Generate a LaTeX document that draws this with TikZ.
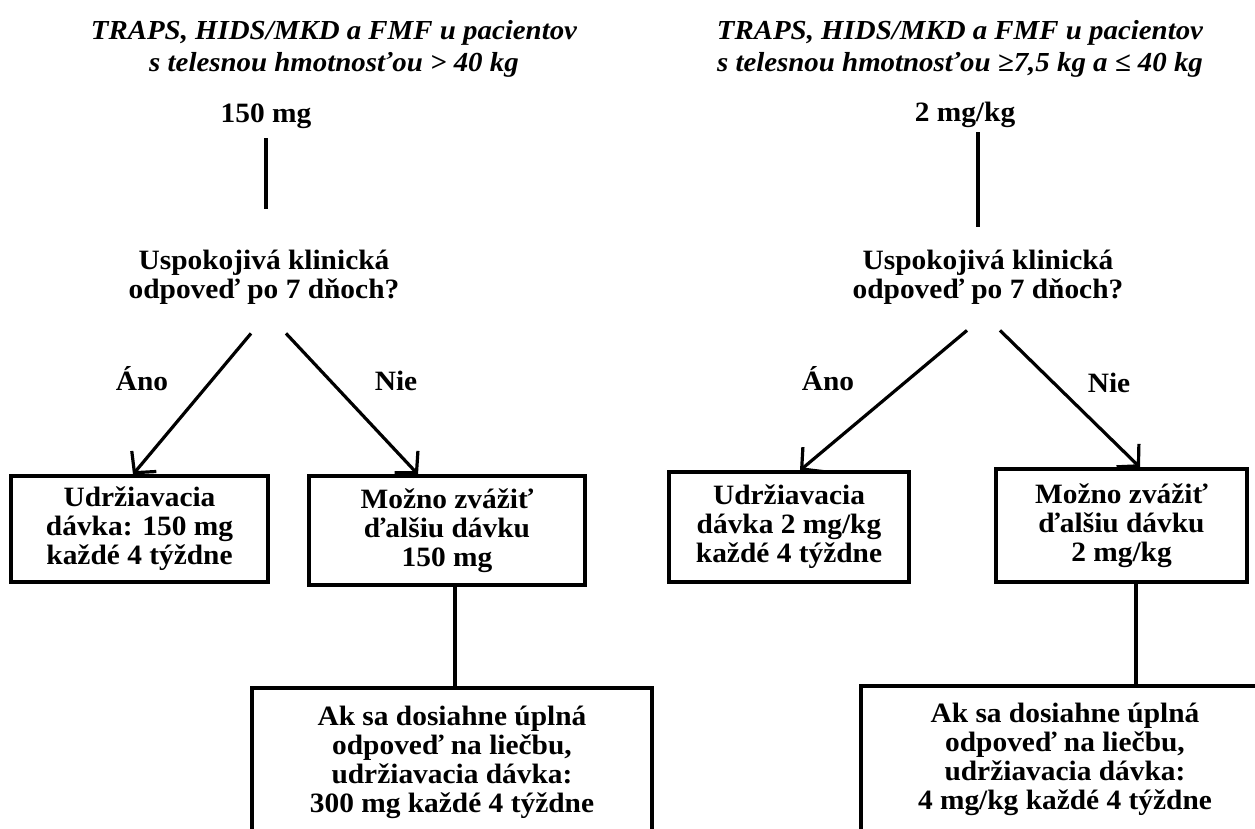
\documentclass[tikz,border=0pt]{standalone}
\usepackage{fontspec}
\setmainfont{Liberation Serif}[FakeStretch=1.05]
\usetikzlibrary{arrows.meta}
\begin{document}
\begin{tikzpicture}[x=1pt,y=-1pt,
  txt/.style={inner sep=0pt, font=\bfseries\fontsize{28pt}{29pt}\selectfont, align=center},
  head/.style={inner sep=0pt, font=\bfseries\itshape\fontsize{27.5pt}{32pt}\selectfont, align=center},
  box/.style={draw, line width=3.2pt, inner sep=0pt, font=\bfseries\fontsize{28pt}{29pt}\selectfont, align=center},
  ln/.style={line width=3.2pt},
  arr/.style={line width=3.2pt, -{Straight Barb[length=15pt,width=32pt,line width=3.2pt]}}]
\useasboundingbox (0,0) rectangle (1255,828);
\clip (0,0) rectangle (1255,828);

% ---------- left ----------
\node[head] (hL) at (334,48.5) {TRAPS, HIDS/MKD a FMF u pacientov\\s telesnou hmotnosťou > 40 kg};
\node[txt, anchor=base] (dL) at (266,122) {150 mg};
\node[txt] (qL) at (264,277) {Uspokojivá klinická\\odpoveď po 7 dňoch?};
\node[txt, anchor=base] (yL) at (142,390) {Áno};
\node[txt, anchor=base] (nL) at (396,390) {Nie};
\node[box, minimum width=257pt, minimum height=106pt] (b1L) at (139.5,529) {Udržiavacia\\dávka: 150 mg\\každé 4 týždne};
\node[box, minimum width=276pt, minimum height=109pt] (b2L) at (447,530.5) {Možno zvážiť\\ďalšiu dávku\\150 mg};
\node[box, minimum width=400pt, minimum height=148pt] (b3L) at (452,762) {Ak sa dosiahne úplná\\odpoveď na liečbu,\\udržiavacia dávka:\\300 mg každé 4 týždne};

\draw[ln, shorten <=10pt, shorten >=41pt] (dL.south) -- (dL.south |- qL.north);
\draw[arr] ([shift={(-13,29)}]qL.south) -- ([xshift=-6.5pt]b1L.north);
\draw[arr] ([shift={(22,29)}]qL.south) -- ([xshift=-29pt]b2L.north);
\draw[ln] ([xshift=8pt]b2L.south) -- ([xshift=8pt]b2L.south |- b3L.north);

% ---------- right ----------
\node[head] (hR) at (960,48.5) {TRAPS, HIDS/MKD a FMF u pacientov\\s telesnou hmotnosťou ≥7,5 kg a ≤ 40 kg};
\node[txt, anchor=base] (dR) at (965,121) {2 mg/kg};
\node[txt] (qR) at (988,277) {Uspokojivá klinická\\odpoveď po 7 dňoch?};
\node[txt, anchor=base] (yR) at (828,390) {Áno};
\node[txt, anchor=base] (nR) at (1109,392) {Nie};
\node[box, minimum width=240pt, minimum height=110pt] (b1R) at (789,527) {Udržiavacia\\dávka 2 mg/kg\\každé 4 týždne};
\node[box, minimum width=251pt, minimum height=113pt] (b2R) at (1121.5,525.5) {Možno zvážiť\\ďalšiu dávku\\2 mg/kg};
\node[box, minimum width=440pt, minimum height=148pt] (b3R) at (1081,760) {\hspace*{-32pt}\begin{tabular}{@{}c@{}}Ak sa dosiahne úplná\\odpoveď na liečbu,\\udržiavacia dávka:\\4 mg/kg každé 4 týždne\end{tabular}};

\draw[ln, shorten <=5pt, shorten >=23pt] ([xshift=13pt]dR.south) -- ([xshift=13pt]dR.south |- qR.north);
\draw[arr] ([shift={(-21,26)}]qR.south) -- ([xshift=11pt]b1R.north);
\draw[arr] ([shift={(12,26)}]qR.south) -- ([xshift=18.5pt]b2R.north);
\draw[ln] ([xshift=14.5pt]b2R.south) -- ([xshift=14.5pt]b2R.south |- b3R.north);
\end{tikzpicture}
\end{document}
